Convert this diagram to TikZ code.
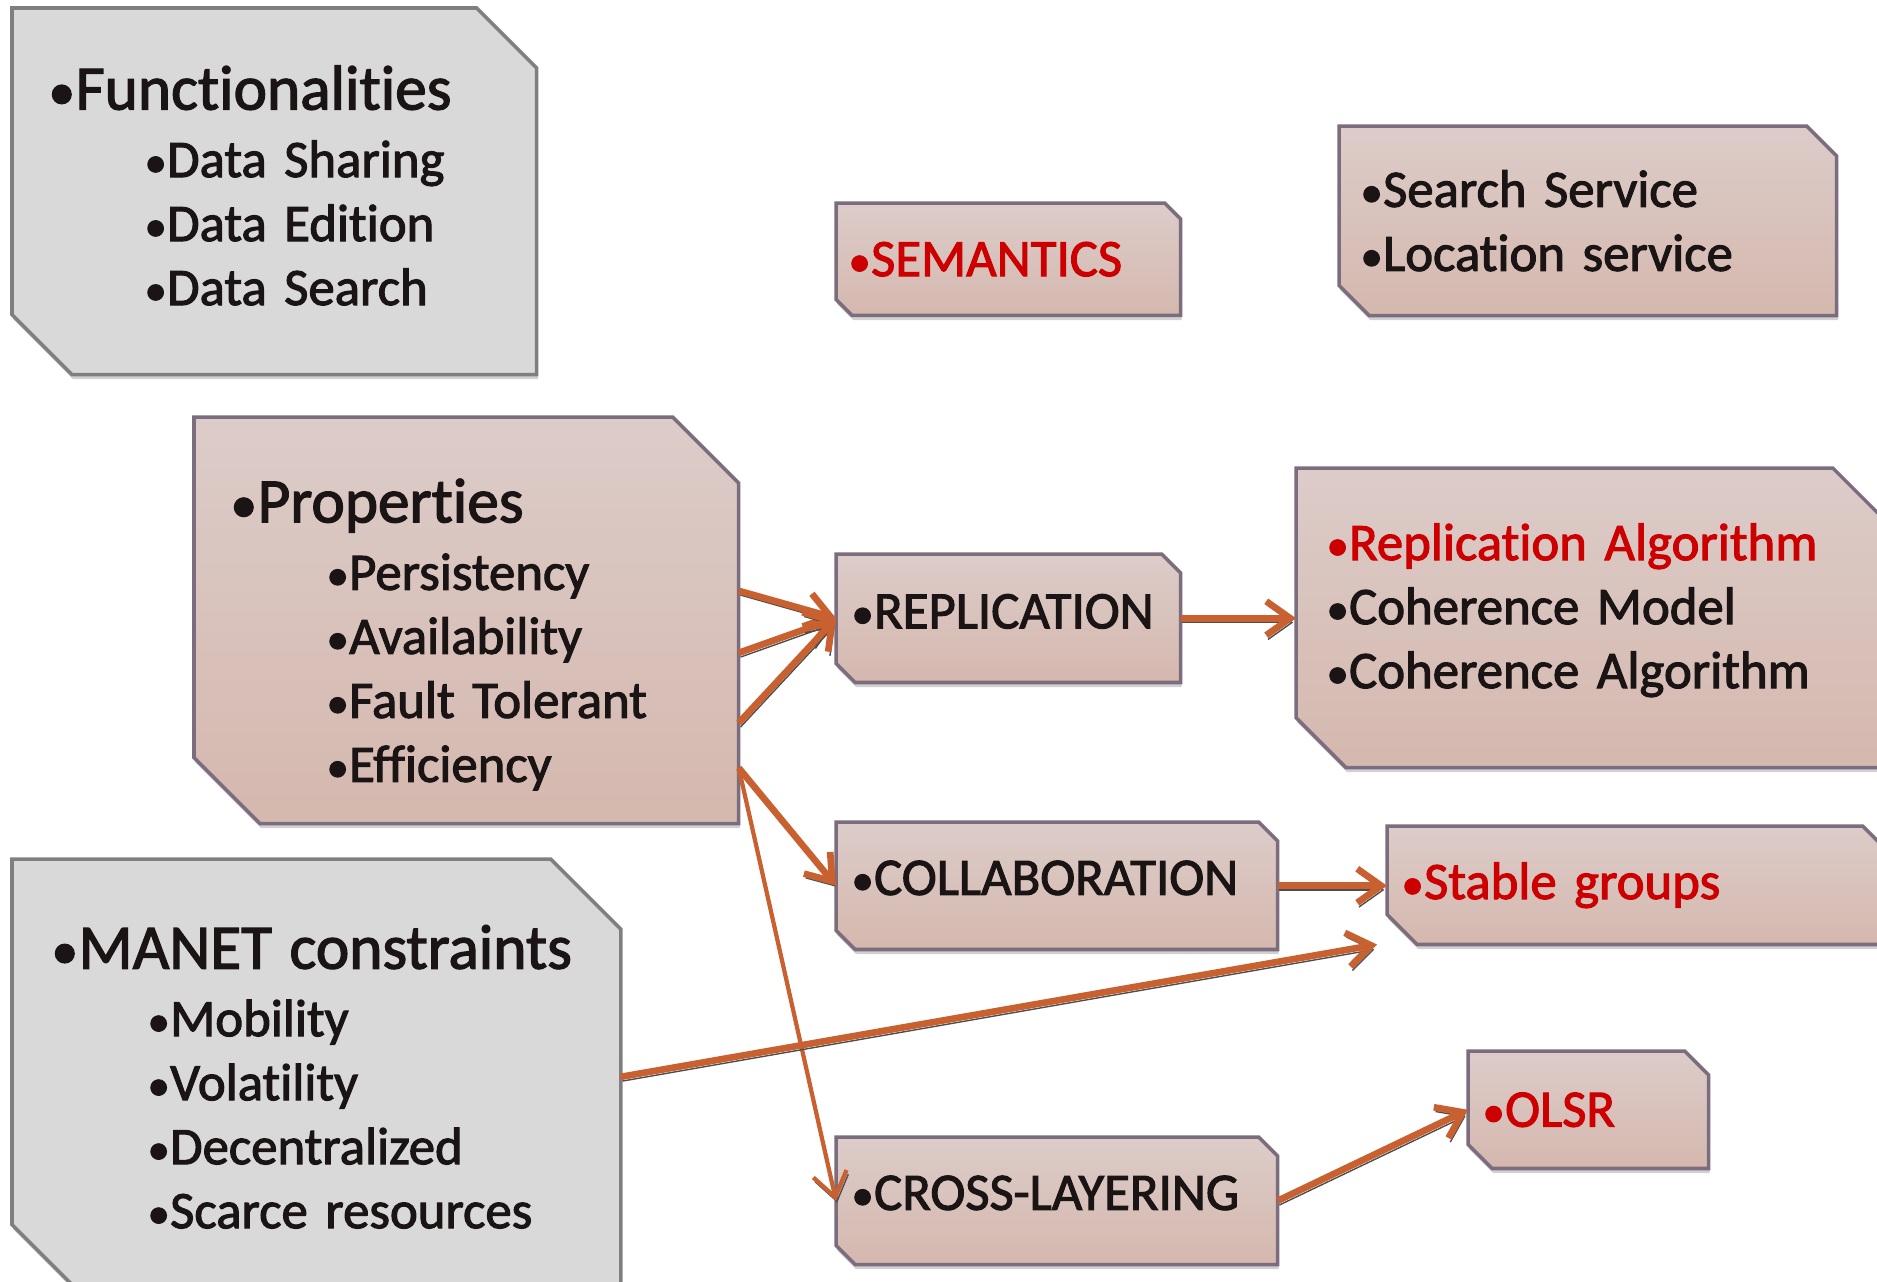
\documentclass[tikz,border=0pt]{standalone}
\usepackage{fontspec}
\setmainfont{Carlito}
\newfontfamily\slidefont{Carlito}[FakeBold=2, Ligatures={NoCommon}]
\usepackage{tikz}
\usetikzlibrary{arrows.meta,backgrounds,shadows,positioning}
\definecolor{darktext}{HTML}{1A1414}
\definecolor{redtext}{HTML}{CC0000}
\definecolor{boxtop}{HTML}{DCCCC9}
\definecolor{boxbot}{HTML}{D5B8AE}
\definecolor{boxedge}{HTML}{7B6C7E}
\definecolor{greybg}{HTML}{D9D9D9}
\definecolor{greyedge}{HTML}{7F7F7F}
\definecolor{arroworange}{HTML}{C9602F}
\definecolor{arrowshade}{HTML}{4D4D4D}
\tikzstyle{txt} = [anchor=north west, inner ysep=0pt, align=left, text=darktext, font=\slidefont\fontsize{15}{18.2}\selectfont]
\tikzstyle{pinkbox} = [draw=boxedge, line width=1pt, top color=boxtop, bottom color=boxbot, drop shadow={shadow xshift=0.3pt, shadow yshift=-1.3pt, fill=black, opacity=0.18}]
\tikzstyle{greybox} = [draw=greyedge, line width=1pt, fill=greybg, drop shadow={shadow xshift=0.3pt, shadow yshift=-1.3pt, fill=black, opacity=0.18}]
\tikzstyle{arrow} = [draw=arroworange, line width=1.9pt, -{Straight Barb[length=2.4mm,width=3.4mm]}, preaction={draw=arrowshade, transform canvas={shift={(0.5pt,-1.2pt)}}}]
\newcommand{\bul}{\makebox[0.33em][l]{\hspace{-0.1em}\scalebox{0.85}{•}}}
\newcommand{\hd}[1]{\mbox{\fontsize{18}{18.2}\selectfont\bul #1}}
\newcommand{\sub}{\hspace*{0.95cm}\bul}
\newcommand{\lift}[1]{\rule[-#1]{0pt}{0pt}}

\begin{document}
\begin{tikzpicture}[x=0.01cm, y=-0.01cm]
\useasboundingbox (0,0) rectangle (1877,1281);
\clip (0,0) rectangle (1877,1281);

% left column
\node[txt, minimum width=5.23cm, minimum height=3.65cm, text width=4.39cm, inner xsep=0.42cm] (func) at (12,8)
  {\hd{Functionalities}\\[1pt] \sub Data Sharing\\ \sub Data Edition\\ \sub Data Search\lift{0.12cm}};
\node[txt, minimum width=5.43cm, minimum height=4.05cm, text width=4.59cm, inner xsep=0.42cm] (prop) at (194,417)
  {\rule{0pt}{0.72cm}\hd{Properties}\\[1pt] \sub Persistency\\ \sub Availability\\ \sub Fault Tolerant\\ \sub Efficiency};
\node[txt, minimum width=6.07cm, minimum height=4.34cm, text width=5.17cm, inner xsep=0.45cm] (manet) at (12,859)
  {\hd{MANET constraints}\\[1pt] \sub Mobility\\ \sub Volatility\\ \sub Decentralized\\ \sub Scarce resources};

% middle column
\node[txt, text=redtext, minimum width=3.43cm, minimum height=1.11cm, text width=3.09cm, inner xsep=0.17cm] (sem) at (836,203) {\bul SEMANTICS};
\node[txt, minimum width=3.43cm, minimum height=1.27cm, text width=3.03cm, inner xsep=0.2cm] (repl) at (836,554) {\bul REPLICATION\lift{0.14cm}};
\node[txt, minimum width=4.4cm, minimum height=1.26cm, text width=4cm, inner xsep=0.2cm] (collab) at (836,822) {\mbox{\bul COLLABORATION}\lift{0.16cm}};
\node[txt, minimum width=4.4cm, minimum height=1.26cm, text width=4cm, inner xsep=0.2cm] (cross) at (836,1137) {\mbox{\bul CROSS-LAYERING}\lift{0.16cm}};

% right column
\node[txt, minimum width=4.96cm, minimum height=1.88cm, text width=4.44cm, inner xsep=0.26cm] (search) at (1339,126)
  {\bul Search Service\\ \bul Location service};
\node[txt, minimum width=5.85cm, minimum height=2.98cm, text width=5.15cm, inner xsep=0.35cm] (ra) at (1296,468)
  {\textcolor{redtext}{\bul Replication Algorithm}\\ \bul Coherence Model\\ \bul Coherence Algorithm\lift{0.24cm}};
\node[txt, text=redtext, minimum width=5.04cm, minimum height=1.17cm, text width=4.66cm, inner xsep=0.19cm] (stable) at (1387,826) {\bul Stable groups};
\node[txt, text=redtext, minimum width=2.39cm, minimum height=1.16cm, text width=2.01cm, inner xsep=0.19cm] (olsr) at (1468,1051) {\bul OLSR};

% snipped boxes behind the text
\begin{scope}[on background layer]
\foreach \n/\c in {func/0.6, manet/0.7}
  \draw[greybox] (\n.north west) -- ([xshift=-\c cm]\n.north east) -- ([yshift=-\c cm]\n.north east)
    -- (\n.south east) -- ([xshift=\c cm]\n.south west) -- ([yshift=\c cm]\n.south west) -- cycle;
\foreach \n/\c in {prop/0.66, sem/0.16, repl/0.19, collab/0.19, cross/0.19, search/0.3, ra/0.5, stable/0.3, olsr/0.24}
  \draw[pinkbox] (\n.north west) -- ([xshift=-\c cm]\n.north east) -- ([yshift=-\c cm]\n.north east)
    -- (\n.south east) -- ([xshift=\c cm]\n.south west) -- ([yshift=\c cm]\n.south west) -- cycle;
\end{scope}

% connectors
\draw[arrow] ([yshift=0.295cm]prop.east) -- (repl.west);
\draw[arrow] ([yshift=-0.325cm]prop.east) -- (repl.west);
\draw[arrow] ([yshift=-1.025cm]prop.east) -- (repl.west);
\draw[arrow] ([yshift=-1.475cm]prop.east) -- (collab.west);
\draw[arrow, line width=1.2pt] ([yshift=-1.475cm]prop.east) -- (cross.west);
\draw[arrow] (repl.east) -- (repl.east -| ra.west);
\draw[arrow] (collab.east) -- (collab.east -| stable.west);
\draw[arrow] (manet.east) -- ([xshift=-0.1cm]stable.south west);
\draw[arrow] (cross.east) -- (olsr.west);
\end{tikzpicture}
\end{document}
